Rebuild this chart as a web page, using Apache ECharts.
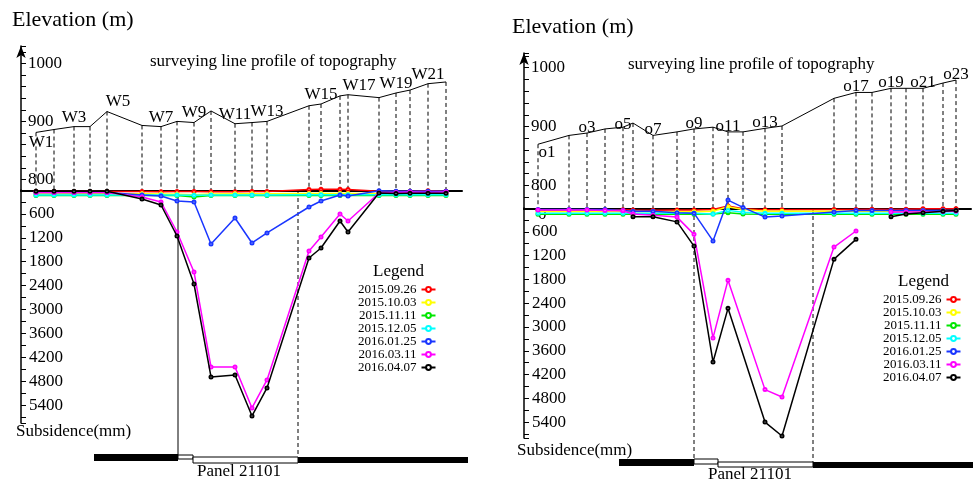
<!DOCTYPE html>
<html>
<head>
<meta charset="utf-8">
<script src="https://cdn.jsdelivr.net/npm/echarts@6/dist/echarts.min.js"></script>
<style>
  html, body { margin: 0; padding: 0; background: #fff; }
  #main { width: 979px; height: 484px; }
</style>
</head>
<body>
<div id="main"></div>
<script>
// survey dates (legend)
var dates = ['2015.09.26', '2015.10.03', '2015.11.11', '2015.12.05', '2016.01.25', '2016.03.11', '2016.04.07'];
var dateColors = ['#ff0000', '#ffff00', '#00e600', '#00ffff', '#1a36ff', '#ff00ff', '#000000'];

// ---- left line (W stations) ----
var leftDist = [75, 165, 265, 345, 430, 605, 700, 780, 865, 950, 1070, 1155, 1230, 1440, 1500, 1595, 1635, 1790, 1875, 1945, 2035, 2125];
var leftElev = [881, 886, 891, 891, 917, 893, 891, 900, 898, 918, 896, 898, 900, 927, 930, 944, 946, 941, 949, 954, 965, 968];
var leftNames = ['W1', '', 'W3', '', 'W5', '', 'W7', '', 'W9', '', 'W11', '', 'W13', '', 'W15', '', 'W17', '', 'W19', '', 'W21', ''];

var left0926 = [40, 40, 40, 40, 40, 40, 45, 40, 40, 45, 45, 40, 35, -10, -20, -20, -10, 30, 40, 40, 20, 30];
var left1003 = [100, 100, 95, 95, 95, 95, 100, 105, 120, 100, 95, 95, 95, 90, 90, 90, 90, 90, 90, 95, 95, 95];
var left1111 = [140, 140, 140, 140, 140, 140, 140, 140, 175, 140, 140, 140, 140, 140, 140, 140, 140, 140, 140, 140, 140, 140];
var left1205 = [125, 125, 125, 125, 125, 125, 125, 125, 130, 125, 125, 125, 125, 120, 120, 120, 120, 120, 120, 120, 120, 120];
var left0125 = [60, 60, 60, 60, 60, 126, 151, 276, 301, 1355, 703, 1330, 1079, 427, 276, 126, 151, 20, 30, 30, 30, 30];
var left0311 = [60, 60, 60, 60, 60, 176, 301, 1054, 2058, 4443, 4443, 5472, 4769, 1531, 1180, 602, 778, 75, 60, 50, 60, 50];
var left0407 = [30, 30, 30, 30, 30, 226, 377, 1155, 2360, 4694, 4644, 5673, 4970, 1707, 1456, 778, 1054, 75, 90, 80, 80, 80];

// panel edges [distance, depth of seam top, 1 = dashed]
var leftEdges = [[785, 264, 0], [1385, 266, 1]];
// seam pieces [from, to, top, bottom, 1 = coal / 0 = panel]
var leftSeam = [[365, 785, 263, 270, 1], [785, 860, 264, 268, 0], [860, 1385, 266, 272, 0], [1385, 2235, 266, 272, 1]];

// ---- right line (o stations) ----
var rightDist = [70, 225, 315, 405, 495, 545, 645, 765, 850, 945, 1020, 1095, 1205, 1290, 1550, 1660, 1740, 1835, 1910, 1995, 2095, 2160];
var rightElev = [870, 885, 889, 896, 899, 906, 885, 891, 896, 899, 891, 891, 897, 901, 948, 958, 958, 965, 965, 965, 974, 979];
var rightNames = ['o1', '', 'o3', '', 'o5', '', 'o7', '', 'o9', '', 'o11', '', 'o13', '', '', 'o17', '', 'o19', '', 'o21', '', 'o23'];

// null = no reading, '-' = line broken
var right0926 = [50, 50, 50, 45, 45, 50, 55, 50, 50, 40, -50, 20, 45, 45, 40, 40, 30, 40, 30, 20, 20, 20];
var right1003 = [90, 90, 90, 90, 90, 90, 95, 95, 95, 80, -30, 40, 80, 85, 80, 80, 80, 80, 80, 70, 70, 70];
var right1111 = [160, 160, 160, 160, 160, 160, 160, 160, 160, 150, 120, 150, 160, 160, 160, 160, 160, 160, 160, 160, 160, 160];
var right1205 = [130, 130, 130, 130, 130, 130, 130, 130, 130, 150, 60, 110, 130, 130, 130, 130, 130, 130, 130, 130, 130, 130];
var right0125 = [40, 40, 40, 40, 60, 80, 80, 120, 130, 830, -200, -15, 230, 200, 100, 60, 60, 60, 60, 60, 60, 60];
var right0311 = [50, 50, 50, 60, 70, 150, 180, 230, 665, 3276, 1820, null, 4580, 4766, 985, 580, '-', 100, 100, 100, 90, 80];
var right0407 = [null, null, null, null, null, 220, 220, 350, 960, 3882, 2530, null, 5398, 5750, 1290, 790, '-', 220, 150, 120, 80, 60];

var rightEdges = [[850, 250, 1], [1445, 253, 1]];
var rightSeam = [[475, 850, 250, 257, 1], [850, 970, 250, 255, 0], [970, 1445, 253, 258, 0], [1445, 2245, 253, 259, 1]];

var FONT = 'Liberation Serif';

var labelTweaks = {
    W1: { position: 'bottom', distance: 2, offset: [5, 0] },
    W5: { offset: [11, 0] },
    W17: { offset: [11, 0] },
    o1: { position: 'bottom', distance: 0, offset: [9, 0] },
    o5: { distance: -6 }
};

function pairs(dist, vals) {
    var out = [];
    for (var i = 0; i < dist.length; i++) {
        if (vals[i] === null) continue;
        out.push(vals[i] === '-' ? '-' : [dist[i], vals[i]]);
    }
    return out;
}

function elevData(dist, elev, names, dist0) {
    return dist.map(function (d, i) {
        var lab = { show: names[i] !== '', formatter: names[i], position: 'top', distance: dist0 };
        Object.assign(lab, labelTweaks[names[i]] || {});
        return { value: [d, elev[i]], label: lab };
    });
}

function dropLine(params, api) {
    var p = api.coord([api.value(0), api.value(1)]);
    var base = params.coordSys.y + params.coordSys.height;
    return {
        type: 'line',
        shape: { x1: p[0], y1: p[1], x2: p[0], y2: base },
        style: { stroke: '#000', lineWidth: 1, lineDash: [4, 3] }
    };
}

function edgeLine(params, api) {
    var a = api.coord([api.value(0), 0]);
    var b = api.coord([api.value(0), api.value(1)]);
    return {
        type: 'line',
        shape: { x1: a[0], y1: a[1], x2: b[0], y2: b[1] },
        style: { stroke: '#000', lineWidth: 1, lineDash: api.value(2) === 1 ? [4, 3] : null }
    };
}

function seamPiece(params, api) {
    var a = api.coord([api.value(0), api.value(2)]);
    var b = api.coord([api.value(1), api.value(3)]);
    var coal = api.value(4) === 1;
    return {
        type: 'rect',
        shape: { x: a[0], y: a[1], width: b[0] - a[0], height: b[1] - a[1] },
        style: coal ? { fill: '#000' } : { fill: '#fff', stroke: '#000', lineWidth: 1 }
    };
}

var chart = echarts.init(document.getElementById('main'));

var txt = { color: '#000', fontFamily: FONT, fontWeight: 'normal', fontSize: 17 };
function title(text, left, top, size) {
    return { text: text, left: left, top: top, padding: 0,
        textStyle: Object.assign({}, txt, { fontSize: size || 17 }) };
}

function elevY(grid, min, max) {
    return {
        gridIndex: grid, type: 'value', min: min, max: max, interval: 20,
        axisLine: { show: true, symbol: ['none', 'arrow'], symbolSize: [7, 12], lineStyle: { color: '#000', width: 1.5 } },
        axisTick: { show: true, inside: true, length: 5, lineStyle: { color: '#000' } },
        axisLabel: { inside: true, margin: 7, color: '#000', fontFamily: FONT, fontSize: 17,
            formatter: function (v) { return v % 100 === 0 ? v : ''; } },
        splitLine: { show: false }
    };
}
function subsY(grid, max, showZero) {
    return {
        gridIndex: grid, type: 'value', inverse: true, min: 0, max: max, interval: 300,
        axisLine: { show: true, lineStyle: { color: '#000', width: 1.5 } },
        axisTick: { show: true, inside: true, length: 5, lineStyle: { color: '#000' } },
        axisLabel: { inside: true, margin: 8, color: '#000', fontFamily: FONT, fontSize: 17,
            formatter: function (v) {
                if (v === 0) return showZero ? '{z|0}' : '';
                return v % 600 === 0 ? v : '';
            },
            rich: { z: { fontFamily: FONT, fontSize: 17, color: '#000', padding: [14, 0, 0, 6] } } },
        splitLine: { show: false }
    };
}
function hiddenY(grid, max) {
    return { gridIndex: grid, type: 'value', show: false, inverse: true, min: 0, max: max };
}
function baseX(grid, max) {
    return {
        gridIndex: grid, type: 'value', min: 0, max: max,
        axisLine: { show: true, onZero: false, lineStyle: { color: '#000', width: 2 } },
        axisTick: { show: false }, axisLabel: { show: false }, splitLine: { show: false }
    };
}
function hiddenX(grid, max) {
    return { gridIndex: grid, type: 'value', show: false, min: 0, max: max };
}

function legend(left, top) {
    return {
        data: dates, orient: 'vertical', align: 'right', left: left, top: top, padding: 0,
        itemGap: 0, itemWidth: 14, itemHeight: 6,
        textStyle: { color: '#000', fontFamily: FONT, fontSize: 13, lineHeight: 12 }
    };
}

var series = [];
function addSide(g, dist, elev, names, labDist, subs, edges, seam) {
    series.push({
        type: 'line', xAxisIndex: g, yAxisIndex: g, data: elevData(dist, elev, names, labDist),
        symbol: 'circle', symbolSize: 0.1, showSymbol: true,
        itemStyle: { color: '#000' }, lineStyle: { color: '#000', width: 1 },
        label: { color: '#000', fontFamily: FONT, fontSize: 17 }, z: 3
    });
    series.push({
        type: 'custom', xAxisIndex: g, yAxisIndex: g, renderItem: dropLine,
        data: dist.map(function (d, i) { return [d, elev[i]]; }), z: 2
    });
    subs.forEach(function (vals, k) {
        series.push({
            name: dates[k], type: 'line', xAxisIndex: g + 1, yAxisIndex: g + 1,
            data: pairs(dist, vals), clip: false, connectNulls: false,
            symbol: 'emptyCircle', symbolSize: 3,
            itemStyle: { color: dateColors[k] },
            lineStyle: { color: dateColors[k], width: 1.5 }, z: 4 + k
        });
    });
    series.push({ type: 'custom', xAxisIndex: g + 2, yAxisIndex: g + 2, renderItem: edgeLine, data: edges, z: 1 });
    series.push({ type: 'custom', xAxisIndex: g + 2, yAxisIndex: g + 2, renderItem: seamPiece, data: seam, z: 1 });
}

addSide(0, leftDist, leftElev, leftNames, 1,
    [left0926, left1003, left1111, left1205, left0125, left0311, left0407], leftEdges, leftSeam);
addSide(3, rightDist, rightElev, rightNames, -3,
    [right0926, right1003, right1111, right1205, right0125, right0311, right0407], rightEdges, rightSeam);

var option = {
    animation: false,
    backgroundColor: '#fff',
    title: [
        title('Elevation (m)', 12, 9, 22),
        title('Elevation (m)', 512, 16, 22),
        title('surveying line profile of topography', 150, 53),
        title('surveying line profile of topography', 628, 56),
        title('Subsidence(mm)', 16, 423),
        title('Subsidence(mm)', 517, 442),
        title('Legend', 373, 263),
        title('Legend', 898, 273),
        title('Panel 21101', 197, 463),
        title('Panel 21101', 708, 466)
    ],
    legend: [legend(358, 283), legend(883, 293)],
    grid: [
        { left: 21, top: 46, width: 441, height: 145 },
        { left: 21, top: 190, width: 441, height: 233 },
        { left: 21, top: 191, width: 441, height: 279 },
        { left: 524, top: 53, width: 447, height: 156 },
        { left: 524, top: 208, width: 447, height: 230 },
        { left: 524, top: 209, width: 447, height: 261 }
    ],
    xAxis: [
        baseX(0, 2205), hiddenX(1, 2205), hiddenX(2, 2205),
        baseX(3, 2235), hiddenX(4, 2235), hiddenX(5, 2235)
    ],
    yAxis: [
        elevY(0, 780, 1030), subsY(1, 5850, false), hiddenY(2, 279),
        elevY(3, 760, 1025), subsY(4, 5800, true), hiddenY(5, 261)
    ],
    series: series
};

chart.setOption(option);
window.onresize = function () { chart.resize(); };
</script>
</body>
</html>
